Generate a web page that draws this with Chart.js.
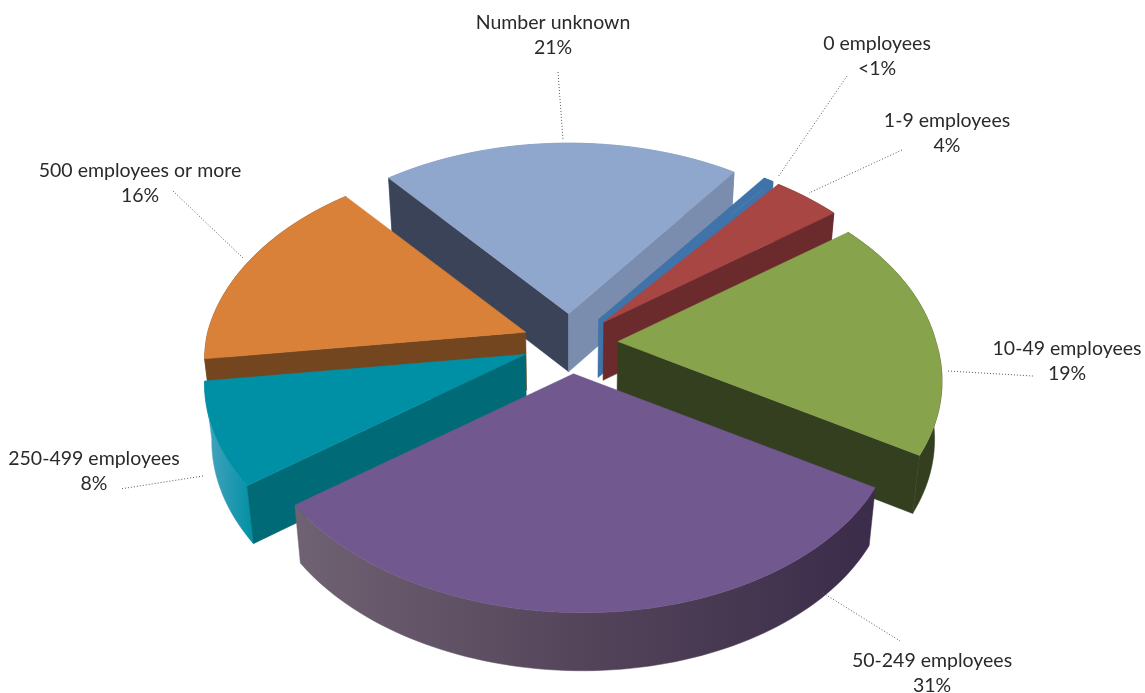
<!DOCTYPE html>
<html>
<head>
<meta charset="utf-8">
<title>Enterprises by number of employees</title>
<script src="https://cdn.jsdelivr.net/npm/chart.js@4"></script>
<style>
  html, body { margin: 0; background: #fff; }
  canvas { display: block; }
</style>
</head>
<body>
<canvas id="sizePie" width="1145" height="693"></canvas>
<script>
const categories = ["0 employees", "1-9 employees", "10-49 employees", "50-249 employees",
  "250-499 employees", "500 employees or more", "Number unknown"];
const shares = [0.6, 4, 19, 31, 8, 16, 21];
const shareLabels = ["<1%", "4%", "19%", "31%", "8%", "16%", "21%"];

const topColors = ["#3f73a9", "#a84644", "#87a34c", "#71588f", "#0090a6", "#d98139", "#90a7cd"];
const wallColors = [
  { start: "#3f73a9", end: "#3f73a9", rim: ["#3f73a9"] },
  { start: "#6b2a2b", end: "#6b2a2b", rim: ["#6b2a2b"] },
  { start: "#343f20", end: "#343f20", rim: ["#343f20"] },
  { start: "#3a2c4a", end: "#6f6272", rim: ["#6f6272", "#54445a", "#3a2c4a"] },
  { start: "#006a77", end: "#006a77", rim: ["#4aa3bf", "#0090a5"] },
  { start: "#74461f", end: "#74461f", rim: ["#74461f"] },
  { start: "#3a4357", end: "#7a8dae", rim: ["#7a8dae"] }
];

// label centre x, first line y, then the dotted leader from label to slice
const labelLayout = [
  { x: 877, y: 44, leader: [847, 76, 778, 177] },
  { x: 947, y: 121, leader: [902, 150, 809, 193] },
  { x: 1067, y: 349, leader: [948, 371, 1033, 376] },
  { x: 932, y: 661, leader: [823, 593, 900, 641] },
  { x: 94, y: 459, leader: [203, 476, 120, 489] },
  { x: 140, y: 171, leader: [173, 191, 243, 258] },
  { x: 553, y: 23, leader: [558, 72, 563, 140] }
];

// view of the tilted disc
const squash = 0.626;
const perspective = 0.167;
const frontLean = 9;
const thickness = 58;
const converge = 0.98;

const pie3d = {
  id: "pie3d",
  // the flat arcs are replaced by extruded slices built from the same elements
  beforeDatasetsDraw(chart) {
    const ctx = chart.ctx;
    const arcs = chart.getDatasetMeta(0).data;

    const order = arcs.map((arc, i) => i).sort((a, b) =>
      Math.sin((arcs[a].startAngle + arcs[a].endAngle) / 2) -
      Math.sin((arcs[b].startAngle + arcs[b].endAngle) / 2));

    order.forEach(i => drawSlice(ctx, arcs[i], wallColors[i]));
    return false;
  },
  afterDraw(chart) {
    const ctx = chart.ctx;
    ctx.save();
    ctx.strokeStyle = "#555";
    ctx.lineWidth = 1;
    ctx.setLineDash([1, 2]);
    labelLayout.forEach(l => {
      ctx.beginPath();
      ctx.moveTo(l.leader[0], l.leader[1]);
      ctx.lineTo(l.leader[2], l.leader[3]);
      ctx.stroke();
    });
    ctx.setLineDash([]);
    ctx.fillStyle = "#2b2a29";
    ctx.font = "19.5px Lato";
    ctx.textAlign = "center";
    ctx.textBaseline = "middle";
    labelLayout.forEach((l, i) => {
      ctx.fillText(categories[i], l.x, l.y);
      ctx.fillText(shareLabels[i], l.x, l.y + 25);
    });
    ctx.restore();
  }
};

function drawSlice(ctx, arc, walls) {
  const R = arc.outerRadius;
  const mid = (arc.startAngle + arc.endAngle) / 2;
  const shift = arc.options.offset / 4 / R;

  const project = (u, v) => {
    const s = 1 / (1 - perspective * v);
    return { x: u * R * s + frontLean * Math.max(v, 0), y: v * R * squash * s };
  };
  const drop = p => ({ x: arc.x + (p.x - arc.x) * converge, y: p.y + thickness });

  // each slice keeps its own foreshortening around its moved apex
  const moved = project(Math.cos(mid) * shift, Math.sin(mid) * shift);
  const apex = { x: arc.x + moved.x, y: arc.y + moved.y };
  const rim = [];
  const steps = Math.max(2, Math.ceil((arc.endAngle - arc.startAngle) * 40));
  for (let k = 0; k <= steps; k++) {
    const a = arc.startAngle + (arc.endAngle - arc.startAngle) * k / steps;
    const q = project(Math.cos(a), Math.sin(a));
    rim.push({ x: apex.x + q.x, y: apex.y + q.y });
  }
  const first = rim[0];
  const last = rim[rim.length - 1];

  const fillPath = (points, style) => {
    ctx.beginPath();
    points.forEach((p, k) => k ? ctx.lineTo(p.x, p.y) : ctx.moveTo(p.x, p.y));
    ctx.closePath();
    ctx.fillStyle = style;
    ctx.fill();
    ctx.strokeStyle = style;
    ctx.lineWidth = 0.5;
    ctx.stroke();
  };

  // outer wall
  const rimWall = rim.concat(rim.map(drop).reverse());
  let rimStyle = walls.rim[0];
  if (walls.rim.length > 1) {
    const xs = rimWall.map(p => p.x);
    rimStyle = ctx.createLinearGradient(Math.min(...xs), 0, Math.max(...xs), 0);
    walls.rim.forEach((c, k) => rimStyle.addColorStop(k / (walls.rim.length - 1), c));
  }
  fillPath(rimWall, rimStyle);

  // radial walls, only those that face the viewer
  if (Math.cos(arc.startAngle) < 0) {
    fillPath([apex, first, drop(first), drop(apex)], walls.start);
  }
  if (Math.cos(arc.endAngle) > 0) {
    fillPath([apex, last, drop(last), drop(apex)], walls.end);
  }

  fillPath([apex].concat(rim), arc.options.backgroundColor);
}

new Chart(document.getElementById("sizePie"), {
  type: "pie",
  data: {
    labels: categories,
    datasets: [{
      data: shares,
      backgroundColor: topColors,
      borderWidth: 0,
      offset: 192,
      hoverOffset: 0
    }]
  },
  options: {
    responsive: false,
    animation: false,
    radius: 318,
    rotation: 36.2,
    layout: { padding: { right: 5, bottom: 7 } },
    plugins: {
      legend: { display: false },
      tooltip: { enabled: false }
    }
  },
  plugins: [pie3d]
});
</script>
</body>
</html>
